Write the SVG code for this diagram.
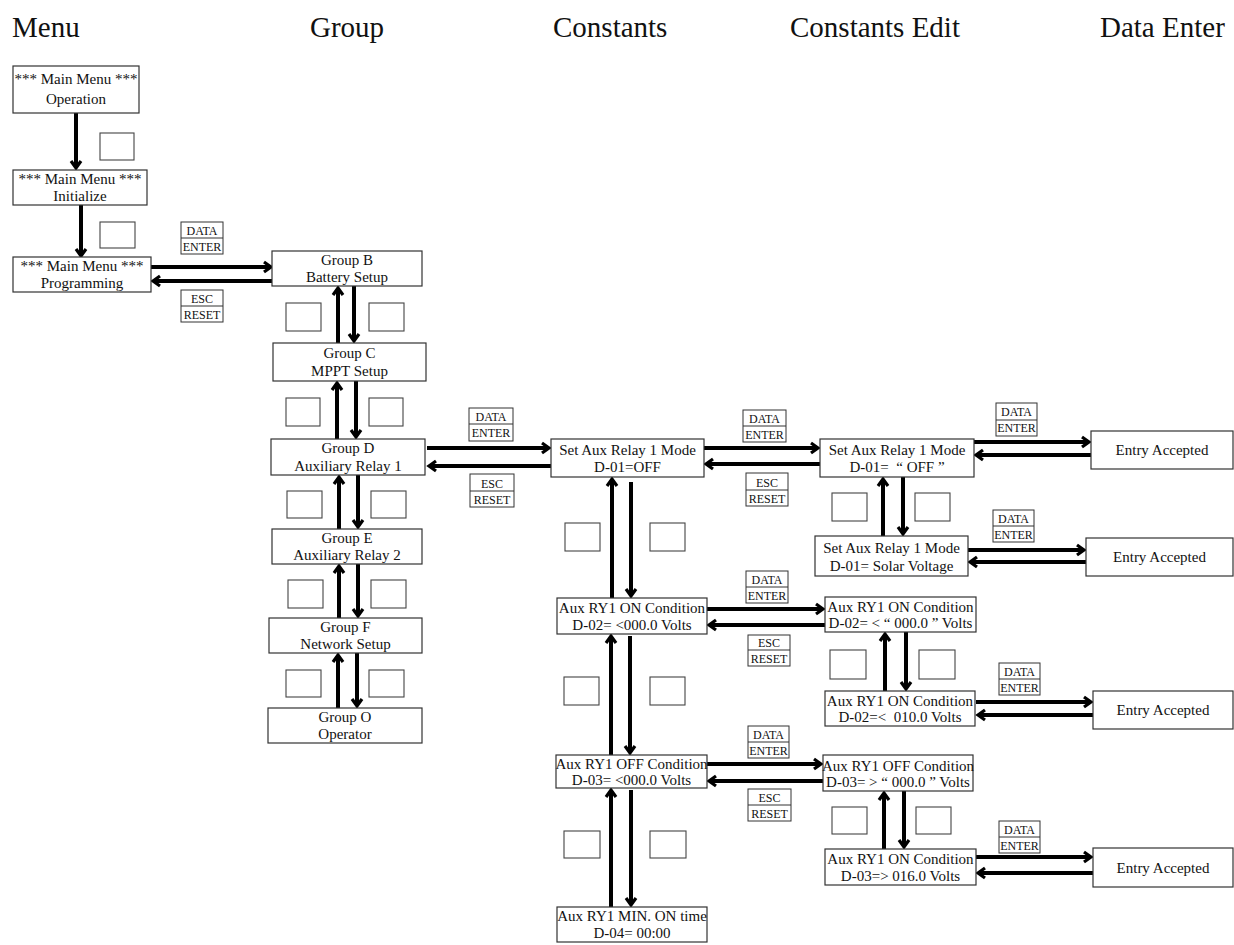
<svg xmlns="http://www.w3.org/2000/svg" width="1234" height="945" viewBox="0 0 1234 945">
<defs>
<marker id="ah" markerUnits="userSpaceOnUse" markerWidth="14" markerHeight="14" refX="0" refY="0" viewBox="-10 -7 12 14" orient="auto" overflow="visible">
<path d="M-7,-5 L0,0 L-7,5" fill="none" stroke="#000" stroke-width="3.2" stroke-linejoin="miter" stroke-miterlimit="6"/>
</marker>
<style>
text{font-family:"Liberation Serif","Times New Roman",serif;fill:#111;}
.hd{font-size:29px;}
.nb{fill:#fff;stroke:#333;stroke-width:1.2;}
.nt{font-size:15px;text-anchor:middle;white-space:pre;}
.kb{fill:#fff;stroke:#444;stroke-width:1.1;}
.lb{fill:#fff;stroke:#333;stroke-width:1;}
.lt{font-size:12px;text-anchor:middle;}
.cn line{stroke:#000;stroke-width:4;marker-end:url(#ah);}
</style>
</defs>
<rect width="1234" height="945" fill="#fff"/>
<g id="headers">
<text class="hd" x="12" y="37">Menu</text>
<text class="hd" x="310" y="37">Group</text>
<text class="hd" x="553" y="37">Constants</text>
<text class="hd" x="790" y="37">Constants Edit</text>
<text class="hd" x="1100" y="37">Data Enter</text>
</g>
<g id="connectors" class="cn">
<line x1="76" y1="113" x2="76" y2="168"/>
<line x1="81" y1="205" x2="81" y2="256"/>
<line x1="151" y1="267" x2="271" y2="267"/>
<line x1="272" y1="281" x2="153" y2="281"/>
<line x1="338" y1="343" x2="338" y2="288"/>
<line x1="354" y1="286" x2="354" y2="341"/>
<line x1="337" y1="439" x2="337" y2="383"/>
<line x1="356" y1="381" x2="356" y2="437"/>
<line x1="339" y1="529" x2="339" y2="477"/>
<line x1="358" y1="475" x2="358" y2="527"/>
<line x1="339" y1="618" x2="339" y2="566"/>
<line x1="358" y1="564" x2="358" y2="616"/>
<line x1="338" y1="708" x2="338" y2="655"/>
<line x1="357" y1="653" x2="357" y2="706"/>
<line x1="427" y1="448" x2="549" y2="448"/>
<line x1="551" y1="466" x2="429" y2="466"/>
<line x1="612" y1="598" x2="612" y2="479"/>
<line x1="631" y1="482" x2="631" y2="596"/>
<line x1="611" y1="755" x2="611" y2="636"/>
<line x1="630" y1="636" x2="630" y2="753"/>
<line x1="611" y1="907" x2="611" y2="790"/>
<line x1="631" y1="790" x2="631" y2="905"/>
<line x1="704" y1="448" x2="818" y2="448"/>
<line x1="820" y1="464" x2="706" y2="464"/>
<line x1="707" y1="609" x2="823" y2="609"/>
<line x1="825" y1="625" x2="709" y2="625"/>
<line x1="707" y1="764" x2="821" y2="764"/>
<line x1="823" y1="781" x2="709" y2="781"/>
<line x1="883" y1="536" x2="883" y2="479"/>
<line x1="903" y1="477" x2="903" y2="534"/>
<line x1="885" y1="691" x2="885" y2="634"/>
<line x1="906" y1="632" x2="906" y2="689"/>
<line x1="884" y1="849" x2="884" y2="793"/>
<line x1="904" y1="791" x2="904" y2="847"/>
<line x1="974" y1="442" x2="1089" y2="442"/>
<line x1="1091" y1="455" x2="976" y2="455"/>
<line x1="968" y1="550" x2="1084" y2="550"/>
<line x1="1086" y1="562" x2="970" y2="562"/>
<line x1="976" y1="702" x2="1091" y2="702"/>
<line x1="1093" y1="715" x2="978" y2="715"/>
<line x1="976" y1="857" x2="1091" y2="857"/>
<line x1="1093" y1="873" x2="978" y2="873"/>
</g>
<g id="keys">
<rect class="kb" x="100" y="133" width="34" height="27"/>
<rect class="kb" x="100" y="222" width="35" height="26"/>
<rect class="kb" x="286" y="303" width="35" height="28"/>
<rect class="kb" x="369" y="303" width="35" height="28"/>
<rect class="kb" x="286" y="398" width="34" height="28"/>
<rect class="kb" x="369" y="398" width="34" height="28"/>
<rect class="kb" x="287" y="491" width="35" height="27"/>
<rect class="kb" x="371" y="491" width="35" height="27"/>
<rect class="kb" x="288" y="580" width="35" height="28"/>
<rect class="kb" x="371" y="580" width="35" height="28"/>
<rect class="kb" x="286" y="670" width="35" height="27"/>
<rect class="kb" x="369" y="670" width="35" height="27"/>
<rect class="kb" x="565" y="523" width="35" height="28"/>
<rect class="kb" x="650" y="523" width="35" height="28"/>
<rect class="kb" x="564" y="677" width="35" height="28"/>
<rect class="kb" x="650" y="677" width="35" height="28"/>
<rect class="kb" x="564" y="831" width="36" height="27"/>
<rect class="kb" x="650" y="831" width="36" height="27"/>
<rect class="kb" x="832" y="493" width="35" height="28"/>
<rect class="kb" x="915" y="493" width="35" height="28"/>
<rect class="kb" x="830" y="650" width="36" height="29"/>
<rect class="kb" x="919" y="650" width="36" height="29"/>
<rect class="kb" x="832" y="807" width="35" height="27"/>
<rect class="kb" x="916" y="807" width="35" height="27"/>
</g>
<g id="labels">
<g id="lbl1"><rect class="lb" x="181" y="222" width="42" height="32"/><line x1="181" y1="238" x2="223" y2="238" stroke="#333"/><text class="lt" x="202" y="235">DATA</text><text class="lt" x="202" y="251">ENTER</text></g>
<g id="lbl2"><rect class="lb" x="181" y="290" width="42" height="32"/><line x1="181" y1="306" x2="223" y2="306" stroke="#333"/><text class="lt" x="202" y="303">ESC</text><text class="lt" x="202" y="319">RESET</text></g>
<g id="lbl3"><rect class="lb" x="469" y="408" width="44" height="33"/><line x1="469" y1="424" x2="513" y2="424" stroke="#333"/><text class="lt" x="491" y="421">DATA</text><text class="lt" x="491" y="437">ENTER</text></g>
<g id="lbl4"><rect class="lb" x="470" y="474" width="44" height="33"/><line x1="470" y1="491" x2="514" y2="491" stroke="#333"/><text class="lt" x="492" y="488">ESC</text><text class="lt" x="492" y="504">RESET</text></g>
<g id="lbl5"><rect class="lb" x="743" y="410" width="43" height="32"/><line x1="743" y1="426" x2="786" y2="426" stroke="#333"/><text class="lt" x="764.5" y="423">DATA</text><text class="lt" x="764.5" y="439">ENTER</text></g>
<g id="lbl6"><rect class="lb" x="746" y="473" width="42" height="33"/><line x1="746" y1="490" x2="788" y2="490" stroke="#333"/><text class="lt" x="767" y="487">ESC</text><text class="lt" x="767" y="503">RESET</text></g>
<g id="lbl7"><rect class="lb" x="996" y="403" width="41" height="33"/><line x1="996" y1="420" x2="1037" y2="420" stroke="#333"/><text class="lt" x="1016.5" y="416">DATA</text><text class="lt" x="1016.5" y="432">ENTER</text></g>
<g id="lbl8"><rect class="lb" x="993" y="510" width="41" height="32"/><line x1="993" y1="526" x2="1034" y2="526" stroke="#333"/><text class="lt" x="1013.5" y="523">DATA</text><text class="lt" x="1013.5" y="539">ENTER</text></g>
<g id="lbl9"><rect class="lb" x="746" y="571" width="42" height="32"/><line x1="746" y1="587" x2="788" y2="587" stroke="#333"/><text class="lt" x="767" y="584">DATA</text><text class="lt" x="767" y="600">ENTER</text></g>
<g id="lbl10"><rect class="lb" x="748" y="635" width="42" height="31"/><line x1="748" y1="650" x2="790" y2="650" stroke="#333"/><text class="lt" x="769" y="647">ESC</text><text class="lt" x="769" y="663">RESET</text></g>
<g id="lbl11"><rect class="lb" x="748" y="726" width="41" height="32"/><line x1="748" y1="742" x2="789" y2="742" stroke="#333"/><text class="lt" x="768.5" y="739">DATA</text><text class="lt" x="768.5" y="755">ENTER</text></g>
<g id="lbl12"><rect class="lb" x="748" y="789" width="43" height="32"/><line x1="748" y1="805" x2="791" y2="805" stroke="#333"/><text class="lt" x="769.5" y="802">ESC</text><text class="lt" x="769.5" y="818">RESET</text></g>
<g id="lbl13"><rect class="lb" x="999" y="663" width="41" height="32"/><line x1="999" y1="679" x2="1040" y2="679" stroke="#333"/><text class="lt" x="1019.5" y="676">DATA</text><text class="lt" x="1019.5" y="692">ENTER</text></g>
<g id="lbl14"><rect class="lb" x="999" y="821" width="41" height="32"/><line x1="999" y1="837" x2="1040" y2="837" stroke="#333"/><text class="lt" x="1019.5" y="834">DATA</text><text class="lt" x="1019.5" y="850">ENTER</text></g>
</g>
<g id="n-op"><rect class="nb" x="13" y="66" width="126" height="47"/><text class="nt" x="76" y="84">*** Main Menu ***</text><text class="nt" x="76" y="104">Operation</text></g>
<g id="n-init"><rect class="nb" x="13" y="170" width="134" height="35"/><text class="nt" x="80" y="184">*** Main Menu ***</text><text class="nt" x="80" y="201">Initialize</text></g>
<g id="n-prog"><rect class="nb" x="13" y="257" width="138" height="35"/><text class="nt" x="82" y="271">*** Main Menu ***</text><text class="nt" x="82" y="288">Programming</text></g>
<g id="n-gb"><rect class="nb" x="272" y="251" width="150" height="35"/><text class="nt" x="347" y="265">Group B</text><text class="nt" x="347" y="282">Battery Setup</text></g>
<g id="n-gc"><rect class="nb" x="273" y="343" width="153" height="38"/><text class="nt" x="349.5" y="358">Group C</text><text class="nt" x="349.5" y="376">MPPT Setup</text></g>
<g id="n-gd"><rect class="nb" x="271" y="439" width="154" height="36"/><text class="nt" x="348" y="453">Group D</text><text class="nt" x="348" y="471">Auxiliary Relay 1</text></g>
<g id="n-ge"><rect class="nb" x="272" y="529" width="150" height="35"/><text class="nt" x="347" y="543">Group E</text><text class="nt" x="347" y="560">Auxiliary Relay 2</text></g>
<g id="n-gf"><rect class="nb" x="269" y="618" width="153" height="35"/><text class="nt" x="345.5" y="632">Group F</text><text class="nt" x="345.5" y="649">Network Setup</text></g>
<g id="n-go"><rect class="nb" x="268" y="708" width="154" height="35"/><text class="nt" x="345" y="722">Group O</text><text class="nt" x="345" y="739">Operator</text></g>
<g id="n-setaux"><rect class="nb" x="551" y="439" width="153" height="38"/><text class="nt" x="627.5" y="455">Set Aux Relay 1 Mode</text><text class="nt" x="627.5" y="472">D-01=OFF</text></g>
<g id="n-on"><rect class="nb" x="557" y="598" width="150" height="36"/><text class="nt" x="632" y="613">Aux RY1 ON Condition</text><text class="nt" x="632" y="630">D-02= &lt;000.0 Volts</text></g>
<g id="n-off"><rect class="nb" x="556" y="755" width="151" height="33"/><text class="nt" x="631.5" y="769">Aux RY1 OFF Condition</text><text class="nt" x="631.5" y="785">D-03= &lt;000.0 Volts</text></g>
<g id="n-min"><rect class="nb" x="557" y="907" width="150" height="35"/><text class="nt" x="632" y="921">Aux RY1 MIN. ON time</text><text class="nt" x="632" y="938">D-04= 00:00</text></g>
<g id="n-edit1"><rect class="nb" x="820" y="439" width="154" height="38"/><text class="nt" x="897" y="455">Set Aux Relay 1 Mode</text><text class="nt" x="897" y="472">D-01=  “ OFF ”</text></g>
<g id="n-solar"><rect class="nb" x="815" y="536" width="153" height="40"/><text class="nt" x="891.5" y="553">Set Aux Relay 1 Mode</text><text class="nt" x="891.5" y="571">D-01= Solar Voltage</text></g>
<g id="n-editon"><rect class="nb" x="825" y="597" width="151" height="35"/><text class="nt" x="900.5" y="612">Aux RY1 ON Condition</text><text class="nt" x="900.5" y="628">D-02= &lt; “ 000.0 ” Volts</text></g>
<g id="n-edit010"><rect class="nb" x="825" y="691" width="150" height="35"/><text class="nt" x="900" y="706">Aux RY1 ON Condition</text><text class="nt" x="900" y="722">D-02=&lt;  010.0 Volts</text></g>
<g id="n-editoff"><rect class="nb" x="823" y="755" width="150" height="36"/><text class="nt" x="898" y="771">Aux RY1 OFF Condition</text><text class="nt" x="898" y="787">D-03= &gt; “ 000.0 ” Volts</text></g>
<g id="n-edit016"><rect class="nb" x="825" y="849" width="151" height="36"/><text class="nt" x="900.5" y="864">Aux RY1 ON Condition</text><text class="nt" x="900.5" y="881">D-03=&gt; 016.0 Volts</text></g>
<g id="n-entry1"><rect class="nb" x="1091" y="431" width="142" height="38"/><text class="nt" x="1162" y="455">Entry Accepted</text></g>
<g id="n-entry2"><rect class="nb" x="1086" y="538" width="147" height="38"/><text class="nt" x="1159.5" y="562">Entry Accepted</text></g>
<g id="n-entry3"><rect class="nb" x="1093" y="691" width="140" height="38"/><text class="nt" x="1163" y="715">Entry Accepted</text></g>
<g id="n-entry4"><rect class="nb" x="1093" y="848" width="140" height="39"/><text class="nt" x="1163" y="873">Entry Accepted</text></g>
</svg>
